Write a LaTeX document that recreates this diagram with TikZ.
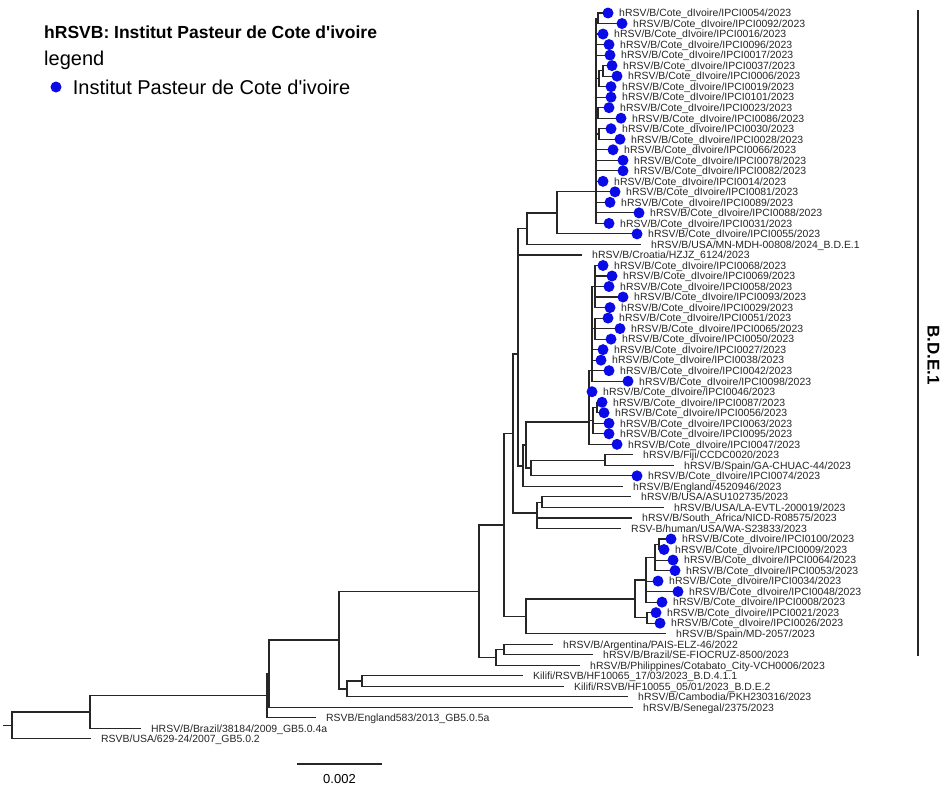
\documentclass[tikz,border=0pt]{standalone}
\usepackage{fontspec}
\setmainfont{Liberation Sans}[Ligatures=TeXOff]
\usetikzlibrary{positioning}
\definecolor{IPCI_Blue}{HTML}{0B0BE8}
\definecolor{Tree_Grey}{HTML}{262626}
\newcommand{\tipfont}{\fontsize{10.45}{12}\selectfont}

% internal nodes: name/x/y/parent
\newcommand{\innernodes}{a1/598/18.3/a0, a2/603/70.9/a3, a3/599/78.8/a0, a4/598/112.9/a0,
  a5/599/134/a0, a0/596/191.84/b1, b1/557/213/b2, b2/527/228.7/b3, b3/518/354/b4,
  c1/595/286.5/c3, c2/595/328.6/c3, c3/592/370.68/c4, c5/597/407.5/c6, c6/593/420.6/c4,
  c4/589/422/d1, d2/605/460.1/d3, d3/531/468/d1, d1/526/445/d4, d4/523/466/b3,
  e1/542/502.2/e2, e2/537/513/b4, b4/513/433.5/b5, f1/659/544.3/f2, f2/655/557.4/f3,
  f3/646/580/f5, f4/647/617.9/f5, f5/635/599/f6, f6/526/616.3/b5, b5/504/525/g1,
  g2/504/649.5/g3, g3/496/657.4/g1, g1/479/591.2/h1, h3/362/681/h2, h2/347/689/h1,
  h1/339/640/h4, h4/269/673.7/h5, h5/267/695.8/h6, h6/90/712/root}

% Cote d'Ivoire tips: id/row/tip x/parent
\newcommand{\ipcitips}{0054/1/608/a1, 0092/2/622/a1, 0016/3/603/a0, 0096/4/609/a0,
  0017/5/610/a0, 0037/6/612/a2, 0006/7/617/a2, 0019/8/611/a3, 0101/9/611/a0,
  0023/10/609/a4, 0086/11/621/a4, 0030/12/611/a5, 0028/13/620/a5, 0066/14/613/a0,
  0078/15/623/a0, 0082/16/623/a0, 0014/17/603/a0, 0081/18/615/a0, 0089/19/610/a0,
  0088/20/639/a0, 0031/21/609/a0, 0055/22/637/b1, 0068/25/603/c1, 0069/26/612/c1,
  0058/27/609/c1, 0093/28/623/c1, 0029/29/610/c1, 0051/30/608/c2, 0065/31/620/c2,
  0050/32/611/c2, 0027/33/603/c3, 0038/34/601/c3, 0042/35/609/c3, 0098/36/628/c3,
  0046/37/592/c4, 0087/38/602/c5, 0056/39/604/c5, 0063/40/609/c6, 0095/41/609/c6,
  0047/42/617/c4, 0074/45/637/d3, 0100/51/671/f1, 0009/52/664/f1, 0064/53/673/f2,
  0053/54/675/f2, 0034/55/658/f3, 0048/56/678/f3, 0008/57/662/f3, 0021/58/656/f4,
  0026/59/660/f4}

% reference tips: name/row/tip x/parent/label
\newcommand{\reftips}{mn/23/640/b2/{hRSV/B/USA/MN-MDH-00808/2024\_B.D.E.1},
  hr/24/581/b3/{hRSV/B/Croatia/HZJZ\_6124/2023},
  fj/43/632/d2/{hRSV/B/Fiji/CCDC0020/2023},
  ga/44/673/d2/{hRSV/B/Spain/GA-CHUAC-44/2023},
  en/46/622/d4/{hRSV/B/England/4520946/2023},
  asu/47/630/e1/{hRSV/B/USA/ASU102735/2023},
  la/48/663/e1/{hRSV/B/USA/LA-EVTL-200019/2023},
  za/49/631/e2/{hRSV/B/South\_Africa/NICD-R08575/2023},
  wa/50/620/e2/{RSV-B/human/USA/WA-S23833/2023},
  md/60/665/f6/{hRSV/B/Spain/MD-2057/2023},
  ar/61/552/g2/{hRSV/B/Argentina/PAIS-ELZ-46/2022},
  br/62/592/g2/{hRSV/B/Brazil/SE-FIOCRUZ-8500/2023},
  ph/63/579/g3/{hRSV/B/Philippines/Cotabato\_City-VCH0006/2023},
  kb/64/522/h3/{Kilifi/RSVB/HF10065\_17/03/2023\_B.D.4.1.1},
  ke/65/563/h3/{Kilifi/RSVB/HF10055\_05/01/2023\_B.D.E.2},
  kh/66/627/h2/{hRSV/B/Cambodia/PKH230316/2023},
  sn/67/632/h4/{hRSV/B/Senegal/2375/2023},
  g5a/68/315/h5/{RSVB/England583/2013\_GB5.0.5a},
  g4a/69/140/h6/{HRSV/B/Brazil/38184/2009\_GB5.0.4a},
  g02/70/90/root/{RSVB/USA/629-24/2007\_GB5.0.2}}

\begin{document}
\begin{tikzpicture}[x=1pt, y=-1pt,
    branch/.style={line width=1.1pt, draw=Tree_Grey, line cap=rect},
    tipdot/.style={circle, fill=IPCI_Blue, inner sep=0pt, minimum size=11pt},
    tiplabel/.style={anchor=base west, inner sep=0pt, text=Tree_Grey, font=\tipfont}]
    \useasboundingbox (0,0) rectangle (942,785);

    % Title and legend
    \node[anchor=base west, inner sep=0pt, font=\fontsize{17.5}{20}\selectfont\bfseries] (title) at (44,38) {hRSVB: Institut Pasteur de Cote d'ivoire};
    \node[anchor=base west, inner sep=0pt, font=\fontsize{20}{24}\selectfont] (legend) at (44,65) {legend};
    \node[tipdot] (legdot) at (56,87) {};
    \node[right=11pt of legdot, inner sep=0pt, font=\fontsize{20}{24}\selectfont] (legtext) {Institut Pasteur de Cote d'ivoire};

    % Internal nodes and tips
    \foreach \nm/\nx/\ny/\up in \innernodes {\coordinate (\nm) at (\nx,\ny);}
    \coordinate (root) at (12,725.4);
    \coordinate (rootstub) at (4,725.4);
    \foreach \id/\row/\tx/\up in \ipcitips {
        \pgfmathsetmacro\yy{13+(\row-1)*10.52}
        \coordinate (t\id) at (\tx,\yy);
    }
    \foreach \nm/\row/\tx/\up/\txt in \reftips {
        \pgfmathsetmacro\yy{13+(\row-1)*10.52}
        \coordinate (t\nm) at (\tx,\yy);
        \node[tiplabel] (l\nm) at (\tx+11,\yy+3.8) {\txt};
    }

    % Branches, one path
    \draw[branch] (rootstub) -- (root)
        foreach \nm/\nx/\ny/\up in \innernodes {(\up) |- (\nm)}
        foreach \id/\row/\tx/\up in \ipcitips {(\up) |- (t\id)}
        foreach \nm/\row/\tx/\up/\txt in \reftips {(\up) |- (t\nm)};

    % Cote d'Ivoire tips
    \foreach \id/\row/\tx/\up in \ipcitips {
        \node[tipdot] (d\id) at (t\id) {};
        \node[tiplabel] (l\id) at ([xshift=11pt,yshift=-3.8pt]t\id) {hRSV/B/Cote\_dIvoire/IPCI\id/2023};
    }

    % Clade bar
    \coordinate (bartop) at (918,10);
    \coordinate (barbot) at (918,656);
    \draw[line width=2.4pt, draw=Tree_Grey] (bartop) -- (barbot);
    \node[rotate=-90, inner sep=0pt, font=\fontsize{17}{20}\selectfont\bfseries] (cladelab) at (933.5,355) {B.D.E.1};

    % Scale bar
    \coordinate (sbleft) at (298,764);
    \coordinate (sbright) at (381,764);
    \draw[branch] (sbleft) -- (sbright);
    \node[inner sep=0pt, font=\fontsize{13}{15}\selectfont] (sblabel) at (339.5,779) {0.002};
\end{tikzpicture}
\end{document}
